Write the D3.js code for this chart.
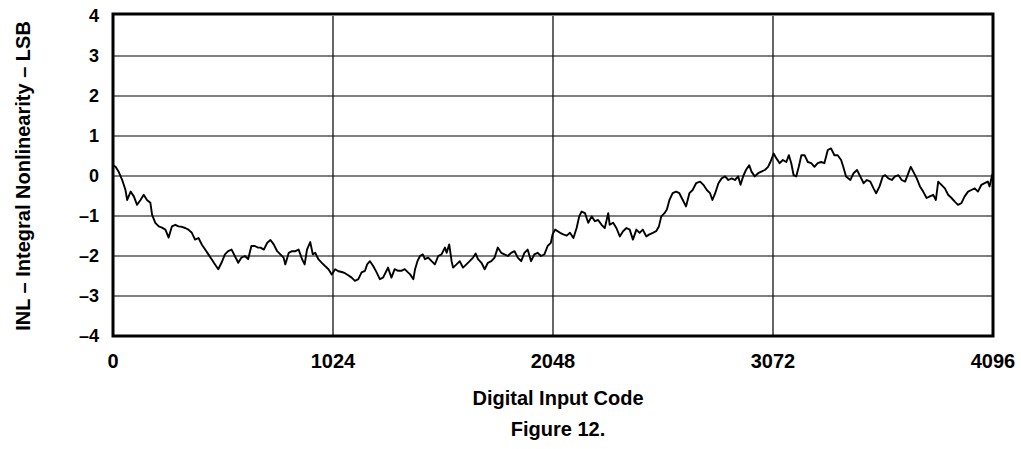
<!DOCTYPE html>
<html>
<head>
<meta charset="utf-8">
<script src="https://cdn.jsdelivr.net/npm/d3@7"></script>
<style>
  html, body { margin: 0; padding: 0; background: #fff; }
  svg { display: block; }
  text { font-family: "Liberation Sans", Arial, Helvetica, sans-serif; font-weight: bold; fill: #000; }
</style>
</head>
<body>
<svg id="chart" width="1021" height="449"></svg>
<script>
// ---- data ----
const xTicks = [0, 1024, 2048, 3072, 4096];
const xTickLabels = ["0", "1024", "2048", "3072", "4096"];
const yTicks = [-4, -3, -2, -1, 0, 1, 2, 3, 4];
const yTickLabels = ["\u20134", "\u20133", "\u20132", "\u20131", "0", "1", "2", "3", "4"];
const xTitle = "Digital Input Code";
const yTitle = "INL \u2013 Integral Nonlinearity \u2013 LSB";
const caption = "Figure 12.";

const codes = [
  0, 12, 27, 43, 58, 66, 82, 97, 112, 128, 143, 158, 174, 182, 197, 213, 228, 244, 259, 274,
  290, 305, 320, 336, 351, 367, 382, 398, 413, 429, 444, 459, 475, 490, 505, 521, 536, 552, 567, 583,
  598, 614, 629, 644, 660, 675,
  687, 702, 718, 733, 748, 764, 779, 794, 802, 818, 833, 849, 864, 880, 892, 903, 918, 930, 941, 956,
  972, 987, 1003, 1018, 1034, 1049, 1065, 1080, 1095, 1111, 1126, 1142, 1157, 1173, 1183, 1196, 1211, 1227, 1242, 1257,
  1273, 1280, 1296, 1311, 1327, 1342, 1358, 1373,
  1383, 1398, 1406, 1417, 1429, 1442, 1452, 1467, 1483, 1498, 1514, 1529, 1545, 1553, 1565, 1576, 1583, 1599, 1614, 1629,
  1645, 1660, 1676, 1688, 1699, 1715, 1730, 1745, 1761, 1776, 1791, 1807, 1822, 1838, 1853, 1869, 1884, 1900, 1915, 1930,
  1946, 1961, 1977, 1992, 2008, 2023, 2038, 2046, 2058,
  2081, 2096, 2112, 2127, 2143, 2158, 2170, 2181, 2197, 2212, 2228, 2243, 2258, 2274, 2289, 2305, 2312, 2328, 2343, 2359,
  2374, 2390, 2405, 2420, 2436, 2451, 2466, 2482, 2497, 2513, 2528, 2541, 2552, 2567, 2578, 2590, 2605, 2621, 2636, 2652,
  2667, 2683, 2698, 2714,
  2733, 2748, 2764, 2779, 2790, 2803, 2818, 2833, 2849, 2864, 2880, 2895, 2910, 2921, 2933, 2946, 2961, 2972, 2987, 3003,
  3018, 3034, 3049, 3060, 3075, 3088, 3103, 3118, 3134, 3146, 3157, 3168, 3180, 3192, 3204, 3219, 3234, 3250, 3265, 3280,
  3296, 3311, 3327, 3342, 3358, 3373, 3389, 3399, 3412,
  3432, 3447, 3463, 3478, 3494, 3509, 3525, 3540, 3552, 3568, 3583, 3594, 3609, 3625, 3640, 3656, 3671, 3687, 3702, 3713,
  3725, 3741, 3756, 3771, 3787, 3802, 3818, 3830, 3841, 3856, 3872, 3887, 3903, 3918, 3933, 3949, 3964, 3980, 3995, 4011,
  4026, 4042, 4057, 4072, 4080, 4092, 4095
];

const inl = [
  0.27, 0.23, 0.10, -0.10, -0.35, -0.60, -0.39, -0.51, -0.72, -0.60, -0.47, -0.60, -0.67, -0.97, -1.17, -1.26, -1.29, -1.34, -1.54, -1.26,
  -1.22, -1.26, -1.27, -1.30, -1.34, -1.42, -1.59, -1.55, -1.71, -1.84, -1.96, -2.08, -2.21, -2.33, -2.17, -1.96, -1.88, -1.84, -2.00, -2.17,
  -2.04, -2.00, -2.08, -1.75, -1.75, -1.79,
  -1.79, -1.84, -1.67, -1.60, -1.71, -1.88, -1.96, -2.04, -2.21, -1.92, -1.88, -1.88, -1.84, -2.08, -2.21, -1.84, -1.65, -1.96, -1.92, -2.08,
  -2.17, -2.25, -2.33, -2.46, -2.33, -2.38, -2.40, -2.43, -2.48, -2.54, -2.62, -2.58, -2.41, -2.37, -2.21, -2.13, -2.25, -2.41, -2.58, -2.54,
  -2.37, -2.29, -2.54, -2.33, -2.37, -2.37, -2.33, -2.41,
  -2.46, -2.58, -2.33, -2.13, -2.00, -1.96, -2.08, -2.04, -2.13, -2.21, -2.00, -1.96, -1.79, -1.92, -1.71, -2.13, -2.29, -2.21, -2.13, -2.29,
  -2.21, -2.13, -2.04, -1.94, -2.08, -2.17, -2.33, -2.17, -2.13, -2.04, -1.79, -1.92, -1.96, -2.00, -1.92, -1.88, -2.04, -2.13, -1.92, -1.84,
  -2.13, -1.96, -1.92, -2.00, -1.96, -1.75, -1.67, -1.46, -1.34,
  -1.42, -1.46, -1.49, -1.42, -1.55, -1.30, -1.01, -0.89, -0.93, -1.17, -1.01, -1.13, -1.10, -1.22, -1.30, -0.93, -1.22, -1.17, -1.30, -1.51,
  -1.38, -1.30, -1.34, -1.59, -1.34, -1.42, -1.34, -1.51, -1.46, -1.42, -1.38, -1.26, -1.01, -0.93, -0.84, -0.60, -0.43, -0.39, -0.43, -0.60,
  -0.76, -0.43, -0.35, -0.18,
  -0.14, -0.22, -0.35, -0.43, -0.60, -0.43, -0.18, -0.06, -0.01, -0.10, -0.06, -0.10, -0.01, -0.22, -0.01, 0.15, 0.27, 0.11, -0.01, 0.07,
  0.11, 0.15, 0.23, 0.35, 0.56, 0.44, 0.32, 0.40, 0.35, 0.52, 0.32, 0.02, -0.01, 0.23, 0.52, 0.52, 0.35, 0.32, 0.23, 0.32,
  0.35, 0.32, 0.65, 0.69, 0.52, 0.52, 0.40, 0.23, -0.01,
  -0.10, 0.07, 0.15, -0.01, -0.18, -0.10, -0.14, -0.31, -0.43, -0.26, -0.01, 0.02, -0.06, -0.10, -0.01, 0.02, -0.10, -0.14, 0.07, 0.23,
  0.11, -0.06, -0.26, -0.39, -0.55, -0.51, -0.47, -0.60, -0.14, -0.22, -0.31, -0.47, -0.55, -0.64, -0.72, -0.68, -0.51, -0.39, -0.35, -0.31,
  -0.39, -0.22, -0.18, -0.14, -0.26, 0.02, 0.05
];

// ---- drawing ----
(function () {
const svg = d3.select("#chart");
const pLeft = 113, pRight = 993, pTop = 16, pBottom = 336;

const x = d3.scaleLinear().domain([0, 4096]).range([pLeft, pRight]);
const y = d3.scaleLinear().domain([-4, 4]).range([pBottom, pTop]);

svg.append("rect").attr("width", 1021).attr("height", 449).attr("fill", "#fff");

// horizontal grid lines
svg.append("g").selectAll("line")
  .data(yTicks.slice(1, -1))
  .join("line")
  .attr("x1", pLeft).attr("x2", pRight)
  .attr("y1", d => y(d)).attr("y2", d => y(d))
  .attr("stroke", "#000").attr("stroke-width", 1.2);

// vertical grid lines
svg.append("g").selectAll("line")
  .data(xTicks.slice(1, -1))
  .join("line")
  .attr("x1", d => x(d)).attr("x2", d => x(d))
  .attr("y1", pTop).attr("y2", pBottom)
  .attr("stroke", "#000").attr("stroke-width", 1.2);

// data line
const points = codes.map((c, i) => [c, inl[i]]);
svg.append("path")
  .datum(points)
  .attr("fill", "none")
  .attr("stroke", "#000")
  .attr("stroke-width", 1.9)
  .attr("stroke-linejoin", "round")
  .attr("d", d3.line().x(d => x(d[0])).y(d => y(d[1])));

// frame
svg.append("rect")
  .attr("x", pLeft).attr("y", pTop - 2)
  .attr("width", pRight - pLeft).attr("height", pBottom - pTop + 2)
  .attr("fill", "none").attr("stroke", "#000").attr("stroke-width", 3);

// y tick labels
svg.append("g").selectAll("text")
  .data(yTicks)
  .join("text")
  .attr("x", 99)
  .attr("y", d => y(d))
  .attr("dy", "0.36em")
  .attr("text-anchor", "end")
  .style("font-size", "18px")
  .text((d, i) => yTickLabels[i]);

// x tick labels
svg.append("g").selectAll("text")
  .data(xTicks)
  .join("text")
  .attr("x", d => x(d))
  .attr("y", 368)
  .attr("text-anchor", "middle")
  .style("font-size", "20px")
  .text((d, i) => xTickLabels[i]);

// titles
svg.append("text")
  .attr("x", (pLeft + pRight) / 2 + 5).attr("y", 405)
  .attr("text-anchor", "middle")
  .style("font-size", "20px")
  .text(xTitle);

svg.append("text")
  .attr("x", (pLeft + pRight) / 2 + 5).attr("y", 436)
  .attr("text-anchor", "middle")
  .style("font-size", "20px")
  .text(caption);

svg.append("text")
  .attr("transform", `translate(30, ${(pTop + pBottom) / 2}) rotate(-90)`)
  .attr("text-anchor", "middle")
  .style("font-size", "20px")
  .text(yTitle);
})();
</script>
</body>
</html>
